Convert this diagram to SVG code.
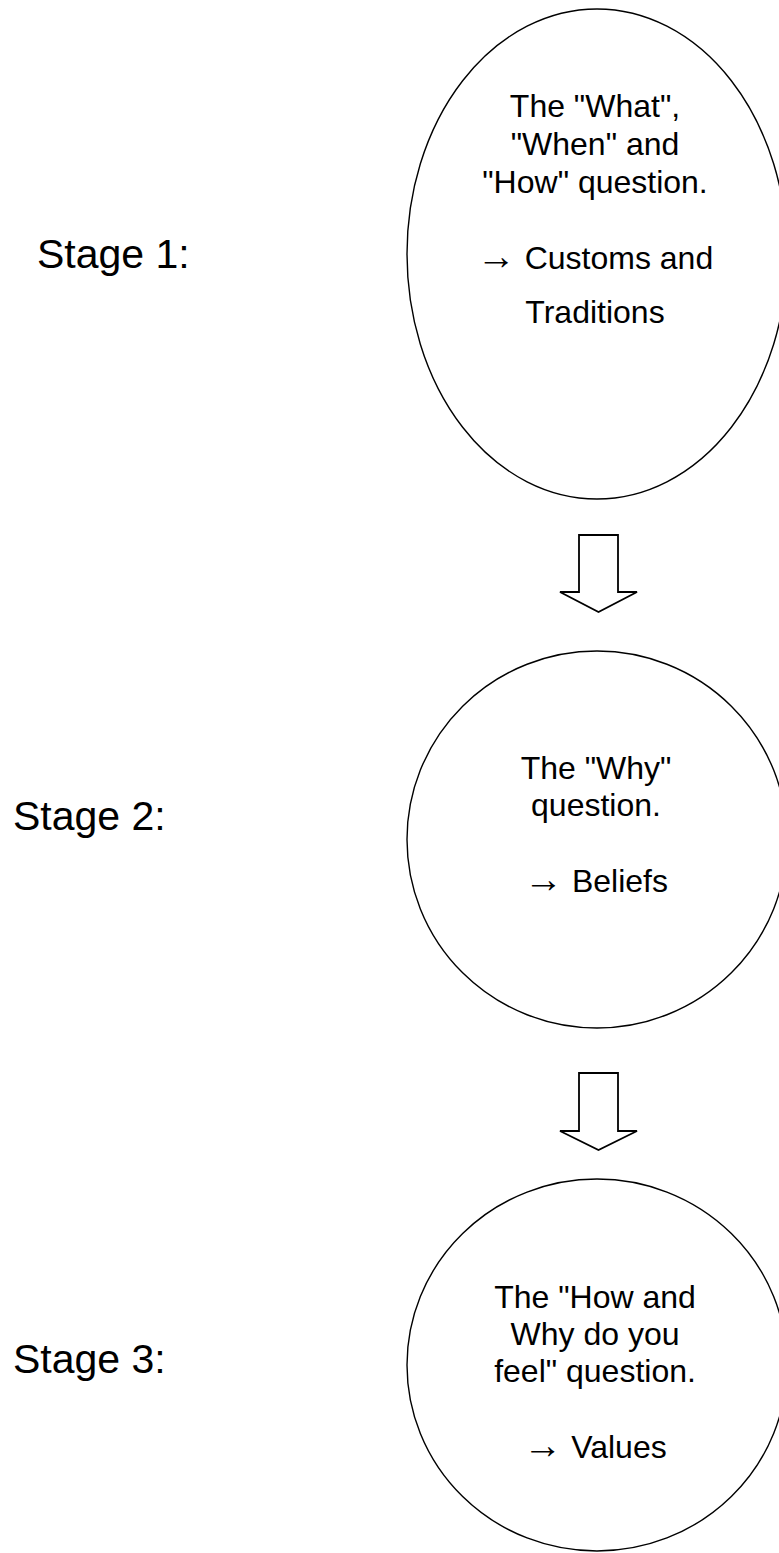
<svg xmlns="http://www.w3.org/2000/svg" width="779" height="1553" viewBox="0 0 779 1553">
<style>
.bg{fill:#ffffff}
.node{fill:#ffffff;stroke:#000000;stroke-width:1.4}
.arrow{fill:#ffffff;stroke:#000000;stroke-width:1.8;stroke-linejoin:miter}
.t{font-family:"Liberation Sans",Arial,sans-serif;font-size:32px;fill:#000000;text-anchor:middle}
.ar{font-size:39px}
.stage{font-family:"Liberation Sans",Arial,sans-serif;font-size:41px;fill:#000000}
</style>
<rect class="bg" x="0" y="0" width="779" height="1553"/>
<g id="labels">
<text class="stage" x="37" y="268">Stage 1:</text>
<text class="stage" x="13" y="830">Stage 2:</text>
<text class="stage" x="13" y="1373">Stage 3:</text>
</g>
<g id="connectors">
<polygon class="arrow" points="579,535 618,535 618,592 637,592 598.5,612 560,592 579,592"/>
<polygon class="arrow" points="579,1073 618,1073 618,1131 637,1131 598.5,1150 560,1131 579,1131"/>
</g>
<g id="node1">
<ellipse class="node" cx="597" cy="254" rx="190" ry="245"/>
<text class="t" x="595" y="117">The "What",</text>
<text class="t" x="595" y="155">"When" and</text>
<text class="t" x="595" y="193">"How" question.</text>
<text class="t" x="595" y="269"><tspan class="ar">→</tspan> Customs and</text>
<text class="t" x="595" y="323">Traditions</text>
</g>
<g id="node2">
<ellipse class="node" cx="597" cy="839.5" rx="190" ry="188.5"/>
<text class="t" x="596" y="779">The "Why"</text>
<text class="t" x="596" y="816">question.</text>
<text class="t" x="596" y="892"><tspan class="ar">→</tspan> Beliefs</text>
</g>
<g id="node3">
<ellipse class="node" cx="597" cy="1365" rx="190" ry="186"/>
<text class="t" x="595" y="1308">The "How and</text>
<text class="t" x="595" y="1345">Why do you</text>
<text class="t" x="595" y="1382">feel" question.</text>
<text class="t" x="595" y="1458"><tspan class="ar">→</tspan> Values</text>
</g>
</svg>
